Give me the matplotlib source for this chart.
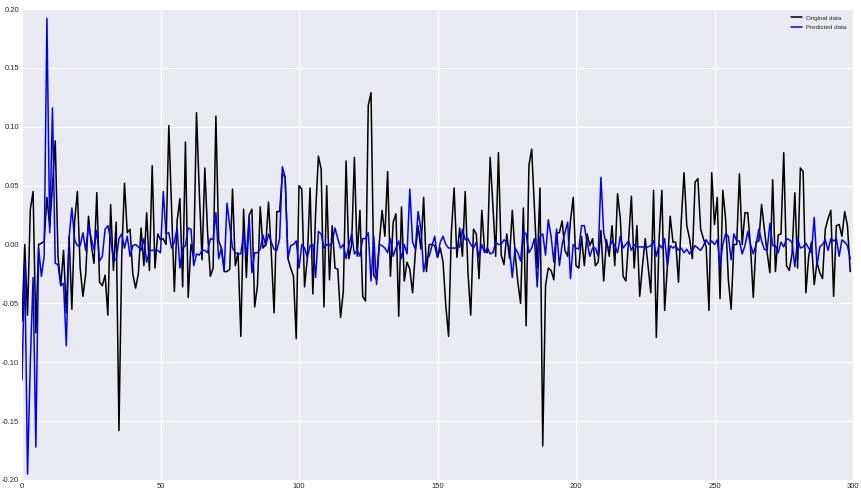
import numpy as np
import matplotlib
matplotlib.use("Agg")
import matplotlib.pyplot as plt

# =========================
# Datos
# =========================
original = [
    -0.065, 0.000, -0.060, 0.030, 0.045, -0.075, 0.000, 0.001, 0.003, 0.040,
    0.015, 0.050, 0.088, -0.010, -0.035, -0.005, -0.058, 0.007, -0.055, 0.020,
    0.045, -0.020, -0.044, -0.025, 0.024, 0.000, -0.016, 0.044, -0.032, -0.035,
    -0.026, -0.060, 0.034, -0.022, 0.019, -0.158, -0.010, 0.052, 0.010, 0.013,
    -0.025, -0.037, -0.025, 0.014, -0.018, 0.027, -0.022, 0.067, -0.020, 0.009,
    0.004, 0.005, 0.000, 0.101, 0.030, -0.040, 0.020, 0.039, -0.036, 0.087,
    -0.045, 0.000, -0.010, 0.112, 0.045, -0.013, 0.065, 0.010, -0.027, -0.020,
    0.109, 0.003, -0.003, -0.023, -0.023, -0.021, 0.047, -0.018, -0.007, -0.078,
    0.030, -0.028, 0.025, 0.030, -0.053, -0.035, 0.032, -0.003, 0.000, 0.036,
    -0.007, -0.058, 0.028, 0.028, 0.060, 0.057, -0.012, -0.020, -0.027, -0.080,
    0.050, 0.047, -0.036, -0.012, 0.048, -0.042, 0.027, 0.075, 0.064, -0.053,
    0.050, -0.030, 0.016, -0.020, -0.021, -0.062, -0.040, 0.071, -0.012, 0.000,
    0.074, -0.010, 0.029, -0.044, -0.048, 0.118, 0.129, -0.026, -0.030, 0.002,
    0.029, 0.007, 0.062, -0.027, 0.019, 0.026, -0.061, 0.032, -0.031, -0.015,
    -0.021, -0.041, -0.007, 0.016, -0.004, 0.040, -0.023, 0.000, 0.000, -0.001,
    -0.011, -0.003, -0.015, -0.052, -0.078, 0.010, 0.048, -0.011, 0.014, -0.010,
    0.045, -0.024, -0.060, 0.013, 0.009, -0.029, 0.029, -0.005, -0.007, 0.074,
    0.033, -0.010, 0.078, -0.009, -0.017, 0.009, -0.012, 0.029, -0.007, -0.032,
    -0.050, 0.031, -0.069, 0.067, 0.081, 0.030, -0.020, 0.048, -0.171, -0.035,
    -0.020, -0.022, -0.030, 0.010, 0.010, 0.020, -0.005, -0.010, 0.020, 0.040,
    -0.018, -0.020, 0.007, -0.018, 0.009, -0.001, 0.005, -0.018, -0.015, 0.012,
    -0.031, 0.004, -0.010, 0.016, -0.018, 0.043, 0.022, -0.027, -0.031, 0.004,
    0.041, -0.020, 0.016, -0.044, -0.018, 0.005, -0.018, -0.041, 0.046, -0.079,
    0.005, 0.046, -0.056, -0.018, 0.024, 0.002, 0.002, -0.032, 0.020, 0.061,
    0.016, 0.005, -0.012, 0.053, 0.056, 0.013, 0.005, -0.002, -0.056, 0.061,
    0.017, 0.040, -0.046, 0.046, 0.022, -0.030, -0.055, 0.000, 0.000, 0.060,
    0.000, 0.027, 0.027, -0.002, -0.045, 0.002, 0.003, 0.034, 0.013, -0.007,
    -0.024, 0.055, -0.023, 0.008, 0.009, 0.078, -0.018, -0.022, -0.008, 0.044,
    -0.020, 0.065, 0.062, -0.041, -0.010, 0.002, -0.034, -0.015, -0.024, -0.029,
    0.013, 0.022, 0.029, -0.044, 0.016, 0.017, 0.007, 0.028, 0.016, -0.023,
]

predicho = [
    -0.115, -0.015, -0.195, -0.100, -0.028, -0.172, -0.003, -0.027, -0.010, 0.192,
    0.010, 0.116, -0.016, -0.017, -0.035, -0.033, -0.086, 0.006, 0.031, 0.004,
    -0.001, -0.001, 0.010, -0.005, 0.016, 0.005, -0.004, 0.012, -0.014, -0.010,
    0.013, 0.016, 0.005, -0.013, -0.013, 0.005, 0.009, -0.003, 0.007, -0.010,
    -0.001, 0.000, -0.002, -0.005, 0.005, -0.015, -0.005, -0.005, -0.005, -0.005,
    -0.007, 0.045, 0.009, 0.010, -0.003, 0.002, 0.014, -0.020, -0.003, -0.001,
    0.014, 0.013, -0.018, -0.008, -0.009, -0.005, -0.005, -0.007, 0.005, 0.004,
    0.027, -0.012, -0.003, -0.022, 0.035, 0.016, -0.003, -0.007, -0.008, -0.008,
    0.010, -0.010, 0.023, -0.024, -0.007, -0.007, -0.004, 0.008, -0.001, 0.009,
    0.002, -0.004, -0.005, 0.005, 0.066, 0.057, -0.012, -0.001, 0.000, 0.003,
    -0.020, 0.000, -0.003, -0.011, -0.001, 0.000, -0.028, 0.011, 0.009, -0.003,
    0.000, -0.001, 0.002, 0.014, 0.005, -0.003, 0.000, -0.012, -0.001, 0.009,
    -0.008, -0.005, -0.010, 0.005, 0.005, 0.010, -0.031, 0.007, -0.034, 0.000,
    -0.001, -0.003, -0.007, 0.005, -0.010, -0.003, 0.003, -0.012, 0.000, -0.008,
    0.047, 0.002, -0.004, 0.028, 0.013, -0.023, -0.011, -0.010, -0.001, 0.007,
    -0.011, 0.002, 0.007, 0.000, -0.003, -0.003, -0.003, -0.003, -0.002, 0.013,
    0.004, 0.005, 0.000, -0.003, 0.002, -0.011, 0.000, -0.007, -0.003, -0.008,
    -0.007, 0.002, 0.000, 0.000, 0.004, 0.002, -0.003, -0.028, -0.003, -0.007,
    -0.014, 0.011, 0.009, -0.007, -0.003, 0.005, -0.036, 0.007, 0.009, -0.009,
    0.021, 0.007, -0.015, 0.013, -0.018, 0.000, 0.010, 0.019, -0.029, 0.000,
    -0.003, -0.004, 0.016, 0.016, 0.002, -0.010, -0.003, -0.003, -0.010, 0.057,
    0.010, -0.001, -0.003, 0.003, -0.001, -0.007, 0.007, -0.003, 0.000, 0.003,
    -0.005, 0.000, -0.002, -0.002, -0.002, -0.003, -0.002, -0.001, 0.003, -0.010,
    0.000, -0.003, 0.005, -0.018, -0.001, -0.003, -0.001, -0.005, -0.003, -0.007,
    -0.004, -0.008, -0.005, -0.001, -0.003, -0.005, -0.001, 0.004, 0.000, 0.003,
    0.000, 0.004, -0.018, 0.000, 0.009, 0.007, -0.013, 0.009, 0.003, 0.003,
    -0.008, -0.001, 0.011, 0.000, -0.008, 0.000, 0.013, 0.003, -0.004, -0.005,
    0.018, -0.001, -0.001, -0.007, 0.002, -0.002, 0.005, 0.004, 0.002, -0.019,
    0.005, -0.003, -0.002, 0.001, -0.003, -0.007, 0.023, -0.018, -0.002, 0.000,
    0.004, -0.005, 0.005, 0.003, 0.005, -0.010, 0.004, 0.002, -0.001, -0.012,
]

x_ticks = [0, 50, 100, 150, 200, 250, 300]
y_ticks = [-0.20, -0.15, -0.10, -0.05, 0.00, 0.05, 0.10, 0.15, 0.20]

# =========================
# Figura
# =========================
plt.style.use('seaborn-v0_8-darkgrid')

fig, ax = plt.subplots(figsize=(8.62, 4.93), dpi=100)
fig.subplots_adjust(left=22/862, right=853/862, top=1 - 9/493, bottom=1 - 480/493)

ax.plot(np.arange(len(original)), original, color='black', linewidth=1.1, label='Original data')
ax.plot(np.arange(len(predicho)), predicho, color='blue', linewidth=1.1, label='Predicted data')

ax.set_xlim(0, 300)
ax.set_ylim(-0.2, 0.2)
ax.set_xticks(x_ticks)
ax.set_yticks(y_ticks)
ax.set_yticklabels([f"{v:.2f}" for v in y_ticks])
ax.tick_params(labelsize=5.5, pad=2)

ax.legend(loc='upper right', fontsize=4.5, frameon=False, handlelength=1.8,
          handletextpad=0.7, labelspacing=0.6, borderaxespad=0.6)

plt.savefig("out.png", dpi=100)
plt.close()
